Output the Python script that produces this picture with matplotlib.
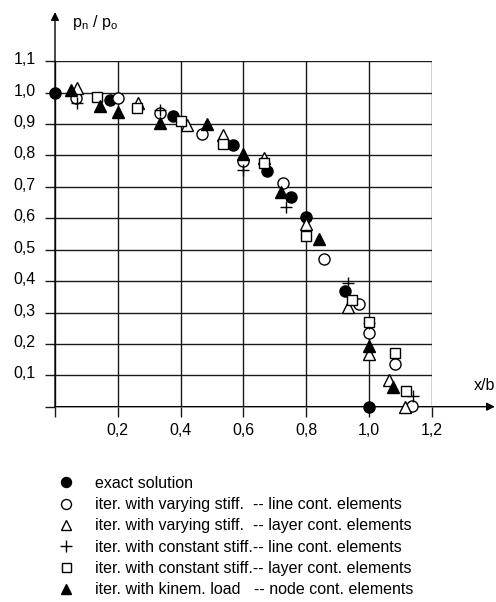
import matplotlib.pyplot as plt
import matplotlib.transforms as mtransforms

plt.rcParams['font.family'] = ['Liberation Sans', 'DejaVu Sans']

# exact solution (filled circles)
exact_x = [0.0, 0.175, 0.375, 0.567, 0.674, 0.751, 0.80, 0.924, 1.0]
exact_y = [1.0, 0.977, 0.926, 0.833, 0.752, 0.669, 0.603, 0.368, 0.0]

# iter. varying stiff. -- line cont. (open circles)
vline_x = [0.066, 0.20, 0.334, 0.467, 0.60, 0.725, 0.857, 0.968, 1.0, 1.083, 1.136]
vline_y = [0.982, 0.984, 0.936, 0.867, 0.783, 0.711, 0.469, 0.327, 0.236, 0.135, 0.003]

# iter. varying stiff. -- layer cont. (open triangles)
vlayer_x = [0.07, 0.265, 0.419, 0.534, 0.666, 0.80, 0.932, 1.0, 1.065, 1.115]
vlayer_y = [1.015, 0.968, 0.897, 0.865, 0.791, 0.581, 0.317, 0.168, 0.085, 0.0]

# iter. constant stiff. -- line cont. (plus)
cline_x = [0.069, 0.334, 0.60, 0.735, 0.934, 1.0, 1.141]
cline_y = [0.966, 0.944, 0.754, 0.635, 0.393, 0.268, 0.034]

# iter. constant stiff. -- layer cont. (open squares)
clayer_x = [0.135, 0.26, 0.40, 0.534, 0.666, 0.80, 0.945, 1.0, 1.083, 1.117]
clayer_y = [0.987, 0.95, 0.91, 0.836, 0.775, 0.545, 0.34, 0.27, 0.17, 0.051]

# iter. kinem. load -- node cont. (filled triangles)
kin_x = [0.05, 0.143, 0.20, 0.334, 0.485, 0.60, 0.719, 0.842, 1.0, 1.075]
kin_y = [1.01, 0.958, 0.94, 0.905, 0.899, 0.805, 0.683, 0.533, 0.194, 0.062]

labels = [
    'exact solution',
    'iter. with varying stiff.  -- line cont. elements',
    'iter. with varying stiff.  -- layer cont. elements',
    'iter. with constant stiff.-- line cont. elements',
    'iter. with constant stiff.-- layer cont. elements',
    'iter. with kinem. load   -- node cont. elements',
]

W, H = 496, 602
fig = plt.figure(figsize=(W / 100, H / 100), dpi=100)
x0, x12 = 55, 431.8
y0, y11 = 406.7, 61.3
ax = fig.add_axes([x0 / W, 1 - y0 / H, (x12 - x0) / W, (y0 - y11) / H])
ax.set_xlim(0, 1.2)
ax.set_ylim(0, 1.1)

lc = '#1a1a1a'
for s in ax.spines.values():
    s.set_visible(False)
ax.set_xticks([0, 0.2, 0.4, 0.6, 0.8, 1.0, 1.2])
ax.set_xticklabels(['', '0,2', '0,4', '0,6', '0,8', '1,0', '1,2'])
ax.set_yticks([i / 10 for i in range(12)])
ax.set_yticklabels([''] + [('%.1f' % (i / 10)).replace('.', ',') for i in range(1, 12)])
ax.tick_params(direction='out', length=7, width=1, color=lc, labelsize=11.5, pad=5)
ax.tick_params(axis='y', pad=7)
ax.grid(True, color=lc, lw=1)

# y labels sit a little above their lines
shift = mtransforms.ScaledTranslation(0, 3 / 100, fig.dpi_scale_trans)
for lab in ax.get_yticklabels():
    lab.set_transform(lab.get_transform() + shift)

# axes arrows
ax.annotate('', xy=(0, 1.257), xytext=(0, 0), xycoords='data',
            arrowprops=dict(arrowstyle='-|>', color='black', lw=1,
                            mutation_scale=12, shrinkA=0, shrinkB=0),
            annotation_clip=False)
ax.annotate('', xy=(1.401, 0), xytext=(0, 0), xycoords='data',
            arrowprops=dict(arrowstyle='-|>', color='black', lw=1,
                            mutation_scale=12, shrinkA=0, shrinkB=0),
            annotation_clip=False)

kw = dict(ls='none', clip_on=False, mec='black', mew=1, zorder=3)
ax.plot(exact_x, exact_y, marker='o', ms=8, mfc='black', label=labels[0], **kw)
ax.plot(vline_x, vline_y, marker='o', ms=8, mfc='white', label=labels[1], **kw)
ax.plot(vlayer_x, vlayer_y, marker='^', ms=8.5, mfc='white', label=labels[2], **kw)
ax.plot(cline_x, cline_y, marker='+', ms=9, mfc='white', label=labels[3], **kw)
ax.plot(clayer_x, clayer_y, marker='s', ms=7.2, mfc='white', label=labels[4], **kw)
ax.plot(kin_x, kin_y, marker='^', ms=8.5, mfc='black', label=labels[5], **kw)

fig.text(72 / W, 1 - 22 / H, r'$\mathregular{p_n}$ / $\mathregular{p_o}$',
         fontsize=11.5, va='center', ha='left')
fig.text(484 / W, 1 - 385 / H, 'x/b', fontsize=11.5, va='center', ha='center')

fig.legend(loc='upper left', bbox_to_anchor=(56 / W, 1 - 476 / H), frameon=False,
           fontsize=11.5, handlelength=1.2, handletextpad=1.25, labelspacing=0.39,
           borderpad=0, borderaxespad=0, numpoints=1, markerscale=0.9)

fig.savefig('out.png', dpi=100)
